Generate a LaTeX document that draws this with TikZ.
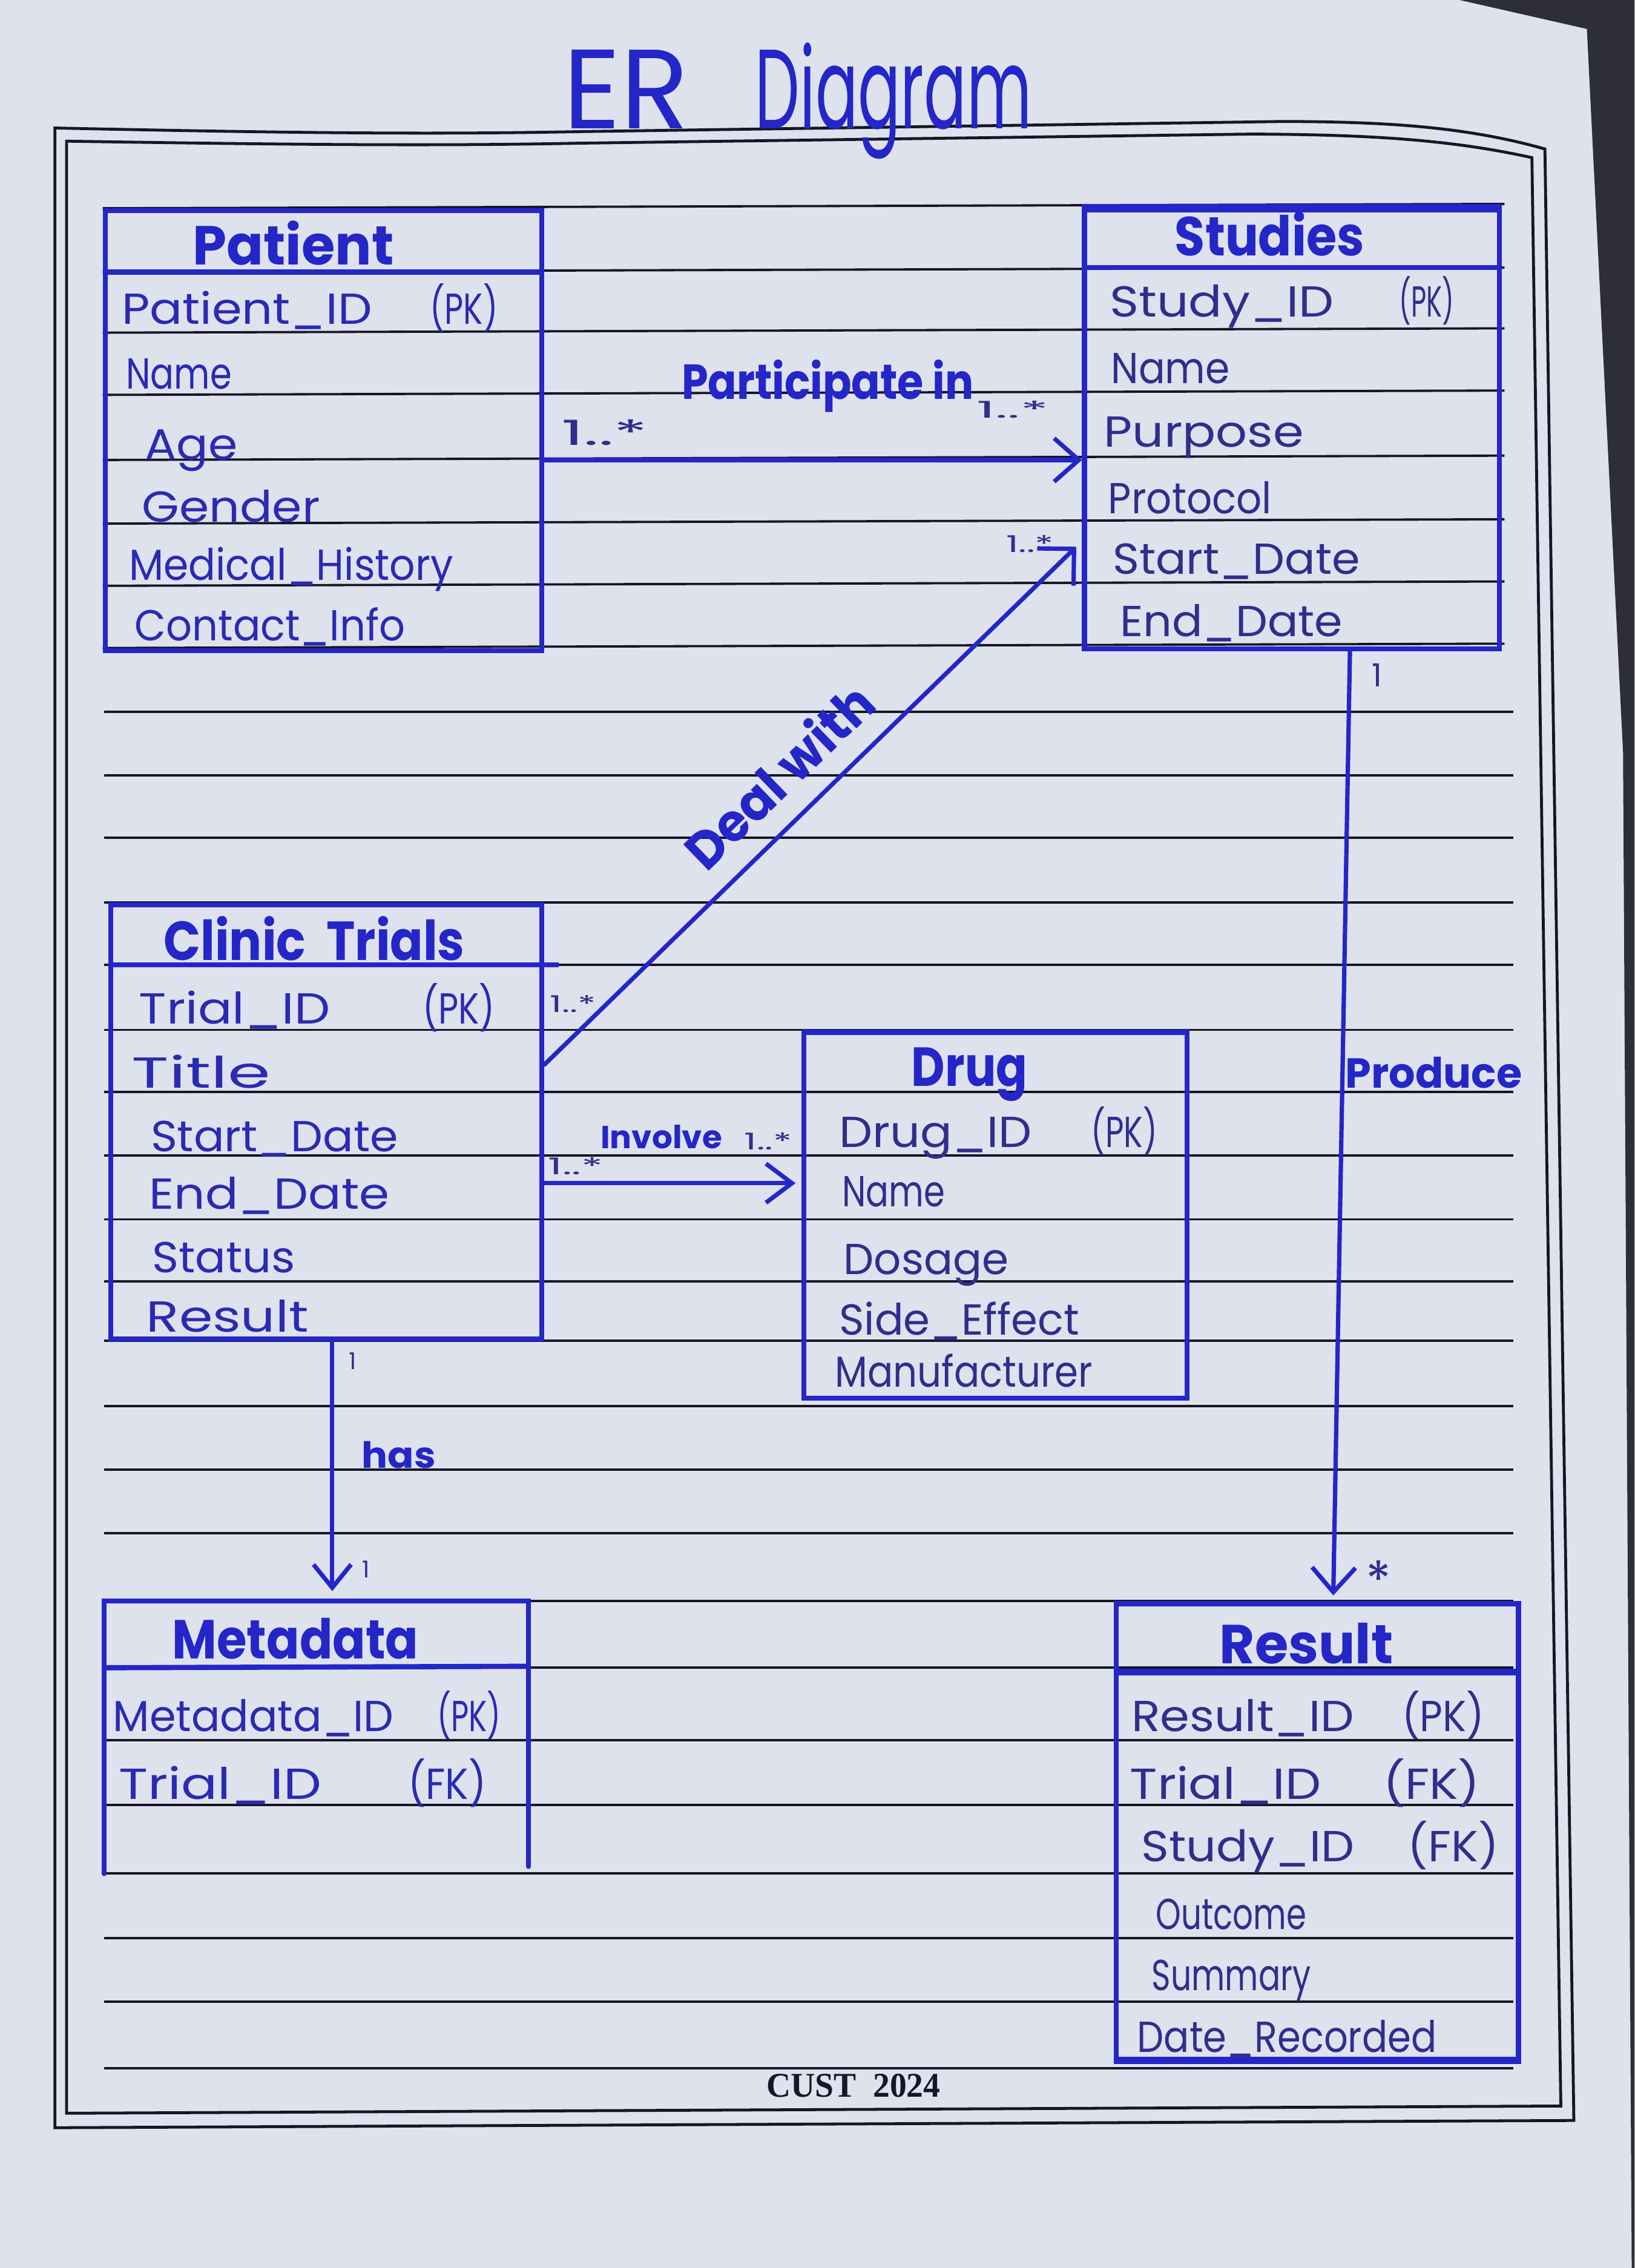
\documentclass[tikz,border=0pt]{standalone}
\usepackage{fontspec}
\usepackage{graphicx}
\usetikzlibrary{arrows.meta,calc}
\newfontfamily\hand{Poppins}
\newfontfamily\footfont{Liberation Serif}
\definecolor{paper}{RGB}{222,226,237}
\definecolor{ink}{RGB}{36,38,200}
\definecolor{pen}{RGB}{48,46,140}
\definecolor{penb}{RGB}{42,42,178}
\definecolor{rulec}{RGB}{22,22,38}
\definecolor{darkbg}{RGB}{45,46,54}
\newcommand\hw[2]{\resizebox{#1pt}{\height}{#2}}
\tikzset{
  ruled/.style={draw=rulec, line width=1.6pt},
  framel/.style={draw=rulec, line width=2pt},
  ebox/.style={draw=ink, line width=3.4pt, rectangle, inner sep=0pt, anchor=north west},
  openbox/.style={rectangle, inner sep=0pt, anchor=north west},
  boxline/.style={draw=ink, line width=3.4pt, line cap=round},
  divider/.style={draw=ink, line width=3.6pt},
  head/.style={font=\hand\bfseries\fontsize{38}{42}\selectfont, text=ink, anchor=base west, inner sep=0pt},
  attr/.style={font=\hand\fontsize{30}{34}\selectfont, text=pen, anchor=base west, inner sep=0pt},
  attrb/.style={attr, text=penb},
  conn/.style={draw=ink, line width=3pt, line cap=round, -{Straight Barb[length=17pt,width=30pt]}},
  mult/.style={font=\hand\fontsize{16}{18}\selectfont, text=pen, inner sep=0pt},
  rel/.style={font=\hand\bfseries\fontsize{34}{38}\selectfont, text=ink, inner sep=0pt},
  title/.style={font=\hand\fontsize{78}{80}\selectfont, text=ink, anchor=base west, inner sep=0pt},
  foot/.style={font=\footfont\bfseries\fontsize{24}{26}\selectfont, text=rulec, inner sep=0pt}
}
\begin{document}
\begin{tikzpicture}[x=1pt,y=-1pt]
\useasboundingbox (0,0) rectangle (1130,1568);
% paper and background
\fill[paper] (0,0) rectangle (1130,1568);
\fill[darkbg] (1009,0) -- (1130,0) -- (1130,1568) -- (1128,1568) -- (1122,520) -- (1097,20) -- cycle;

% double frame
\draw[framel] (38,88.5) .. controls (200,92) and (300,93) .. (400,91) -- (886,84) .. controls (960,84) and (1015,88) .. (1068,103) -- (1088,1466) -- (38,1471) -- cycle;
\draw[framel] (46,97.6) .. controls (200,100) and (300,101) .. (400,99) -- (865,92.7) .. controls (950,93) and (1005,97) .. (1059,109) -- (1079,1456) -- (46,1461) -- cycle;

% ruled lines
\foreach \yy in {144,188,230,273,318,362,405,448}
  \draw[ruled] (71,\yy) -- (1040,\yy-3);
\foreach \yy in {492,536,579,624,667,712,755,799,843,886,927,972,1016,1060,1107,1153,1203,1248,1295,1340,1384,1430}
  \draw[ruled] (72,\yy) -- (1046,\yy);

% title
\node[title] (ttlA) at (389,89) {\hw{87}{ER}};
\node[title] (ttlB) at (522,89) {\hw{191}{Diagram}};

% entity boxes
\node[ebox, minimum width=302pt, minimum height=304pt] (patient) at (71,144) {};
\node[ebox, minimum width=287pt, minimum height=305pt] (studies) at (748,142) {};
\node[ebox, minimum width=298pt, minimum height=300pt] (clinic) at (75,624) {};
\node[ebox, minimum width=265pt, minimum height=253pt] (drug) at (554,712) {};
\node[openbox, minimum width=293pt, minimum height=188pt] (metadata) at (72,1107) {};
\node[ebox, minimum width=278pt, minimum height=315pt] (result) at (770,1107) {};
\draw[boxline] (metadata.south west) -- (metadata.north west) -- (metadata.north east) -- ($(metadata.south east)+(0,-5)$);

% header dividers and heavy edges
\draw[divider] ($(patient.north west)+(0,44)$) -- ($(patient.north east)+(0,44)$);
\draw[divider] ($(studies.north west)+(0,43)$) -- ($(studies.north east)+(0,43)$);
\draw[draw=ink, line width=6pt] ($(studies.north west)+(0,2)$) -- ($(studies.north east)+(0,2)$);
\draw[divider] ($(clinic.north west)+(0,43)$) -- ($(clinic.north east)+(10,43)$);
\draw[divider] ($(metadata.north west)+(0,46)$) -- ($(metadata.north east)+(0,45)$);
\draw[draw=ink, line width=5pt] ($(result.north west)+(0,49)$) -- ($(result.north east)+(0,49)$);
\draw[draw=ink, line width=5pt] ($(result.south west)+(0,-1)$) -- ($(result.south east)+(0,-1)$);

% headers
\node[head] (hPatient) at (133,183) {\hw{139}{Patient}};
\node[head] (hStudies) at (812,177) {\hw{131}{Studies}};
\node[head] (hClinic) at (113,664) {\hw{208}{Clinic\ \ Trials}};
\node[head] (hDrug) at (630,751) {\hw{80}{Drug}};
\node[head] (hMeta) at (119,1147) {\hw{170}{Metadata}};
\node[head] (hResult) at (843,1150) {\hw{120}{Result}};

% Patient attributes
\node[attrb] (p1) at (84,224) {\hw{173}{Patient\_ID}};
\node[attrb] (p1k) at (297,224) {\hw{47}{(PK)}};
\node[attrb] (p2) at (87,269) {\hw{73}{Name}};
\node[attrb] (p3) at (100,318) {\hw{64}{Age}};
\node[attrb] (p4) at (98,361) {\hw{123}{Gender}};
\node[attrb] (p5) at (89,401) {\hw{224}{Medical\_History}};
\node[attrb] (p6) at (93,443) {\hw{187}{Contact\_Info}};

% Studies attributes
\node[attr] (s1) at (767,219) {\hw{155}{Study\_ID}};
\node[attr] (s1k) at (967,219) {\hw{38}{(PK)}};
\node[attr] (s2) at (768,265) {\hw{82}{Name}};
\node[attr] (s3) at (763,309) {\hw{138}{Purpose}};
\node[attr] (s4) at (766,355) {\hw{113}{Protocol}};
\node[attr] (s5) at (769,397) {\hw{171}{Start\_Date}};
\node[attr] (s6) at (774,440) {\hw{154}{End\_Date}};

% Clinic Trials attributes
\node[attrb] (c1) at (96,708) {\hw{132}{Trial\_ID}};
\node[attrb] (c1k) at (292,708) {\hw{50}{(PK)}};
\node[attrb] (c2) at (91,752) {\hw{96}{Title}};
\node[attrb] (c3) at (104,796) {\hw{171}{Start\_Date}};
\node[attrb] (c4) at (103,836) {\hw{166}{End\_Date}};
\node[attrb] (c5) at (105,880) {\hw{99}{Status}};
\node[attrb] (c6) at (101,921) {\hw{112}{Result}};

% Drug attributes
\node[attr] (d1) at (580,793) {\hw{133}{Drug\_ID}};
\node[attr] (d1k) at (754,793) {\hw{46}{(PK)}};
\node[attr] (d2) at (582,834) {\hw{71}{Name}};
\node[attr] (d3) at (583,881) {\hw{114}{Dosage}};
\node[attr] (d4) at (580,923) {\hw{166}{Side\_Effect}};
\node[attr] (d5) at (577,959) {\hw{178}{Manufacturer}};

% Metadata attributes
\node[attrb] (m1) at (78,1197) {\hw{194}{Metadata\_ID}};
\node[attrb] (m1k) at (302,1197) {\hw{44}{(PK)}};
\node[attrb] (m2) at (82,1244) {\hw{140}{Trial\_ID}};
\node[attrb] (m2k) at (282,1244) {\hw{54}{(FK)}};

% Result attributes
\node[attr] (r1) at (782,1197) {\hw{154}{Result\_ID}};
\node[attr] (r1k) at (969,1197) {\hw{57}{(PK)}};
\node[attr] (r2) at (781,1244) {\hw{132}{Trial\_ID}};
\node[attr] (r2k) at (956,1244) {\hw{67}{(FK)}};
\node[attr] (r3) at (789,1287) {\hw{147}{Study\_ID}};
\node[attr] (r3k) at (973,1287) {\hw{63}{(FK)}};
\node[attr] (r4) at (799,1334) {\hw{104}{Outcome}};
\node[attr] (r5) at (796,1376) {\hw{110}{Summary}};
\node[attr] (r6) at (786,1419) {\hw{207}{Date\_Recorded}};

% connectors
\coordinate (pA) at ($(patient.north east)+(0,174)$);
\draw[conn] (pA) -- (pA -| studies.west);
\coordinate (cA) at ($(clinic.north east)+(0,112)$);
\coordinate (sB) at ($(studies.north west)+(-4,236)$);
\draw[conn, -{Straight Barb[length=18pt,width=36pt]}] (cA) -- (sB);
\coordinate (cB) at ($(clinic.north east)+(0,194)$);
\draw[conn, -{Straight Barb[length=18pt,width=27pt]}, shorten >=4pt] (cB) -- (cB -| drug.west);
\coordinate (cC) at ($(clinic.south)+(4,0)$);
\draw[conn, -{Straight Barb[length=16pt,width=26pt]}, shorten >=7pt] (cC) -- (cC |- metadata.north);
\coordinate (sC) at ($(studies.south)+(40,0)$);
\coordinate (rA) at ($(result.north)+(11,-4)$);
\draw[conn] (sC) -- (rA);

% relationship labels
\node[rel, anchor=base west] (lPart) at (471,276) {\hw{202}{Participate in}};
\node[rel, rotate=44, font=\hand\bfseries\fontsize{36}{40}\selectfont] (lDeal) at (538,536) {\hw{165}{Deal with}};
\node[rel, anchor=base west, font=\hand\bfseries\fontsize{22}{24}\selectfont] (lInv) at (415,794) {\hw{84}{Involve}};
\node[rel, anchor=base west, font=\hand\bfseries\fontsize{25}{28}\selectfont] (lHas) at (250,1015) {\hw{51}{has}};
\node[rel, anchor=base west, font=\hand\bfseries\fontsize{29}{32}\selectfont] (lProd) at (930,752) {\hw{122}{Produce}};

% multiplicities
\node[mult, font=\hand\fontsize{24}{26}\selectfont] (mu1) at (418,299) {\hw{60}{1..*}};
\node[mult] (mu2) at (700,283) {\hw{50}{1..*}};
\node[mult] (mu3) at (712,376) {\hw{33}{1..*}};
\node[mult] (mu4) at (396,694) {\hw{32}{1..*}};
\node[mult] (mu5) at (398,806) {\hw{38}{1..*}};
\node[mult] (mu6) at (531,789) {\hw{33}{1..*}};
\node[mult] (mu7) at (244,941) {1};
\node[mult] (mu8) at (253,1085) {1};
\node[mult, font=\hand\fontsize{22}{24}\selectfont] (mu9) at (952,467) {1};
\node[mult, font=\hand\fontsize{36}{36}\selectfont] (mu10) at (953,1092) {*};

% footer
\node[foot] (ft) at (590,1442) {\hw{120}{CUST\ \ 2024}};
\end{tikzpicture}
\end{document}
